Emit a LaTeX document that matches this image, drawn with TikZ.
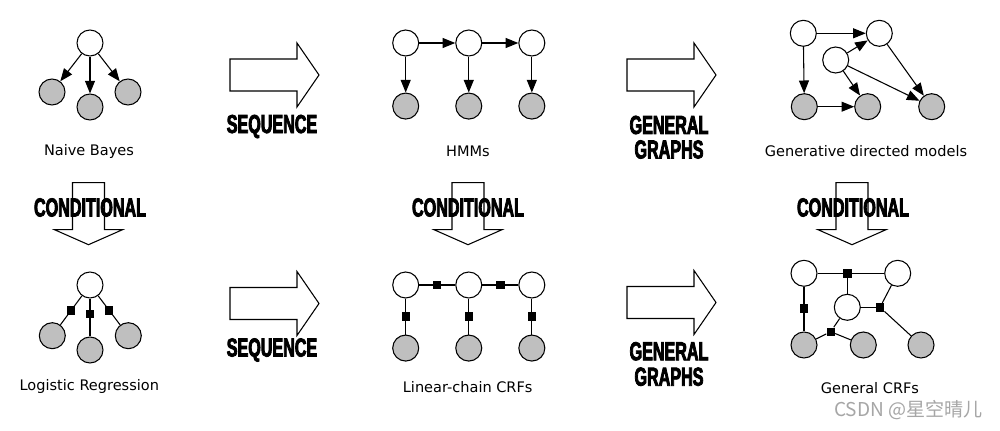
\documentclass[tikz,border=0pt]{standalone}
\usepackage{fontspec}
\setmainfont{DejaVu Sans}
\newfontfamily\bannerfont[FakeStretch=0.62,BoldFeatures={FakeBold=3}]{Liberation Sans}
\newfontfamily\cjkfont{Noto Sans CJK SC}
\usepackage{xcolor}
\usepackage{tikz}
\usetikzlibrary{arrows.meta,positioning}

\definecolor{obsgray}{HTML}{BFBFBF}
\definecolor{markgray}{HTML}{A6A6A6}

\tikzset{
  pics/rightfat/.style={code={\draw[fat] (0,-16) -- (67,-16) -- (67,-32) -- (89,0) -- (67,32) -- (67,16) -- (0,16) -- cycle;}},
  pics/downfat/.style={code={\draw[fat] (-16,0) -- (-16,47) -- (-34,47) -- (0,62) -- (34,47) -- (16,47) -- (16,0) -- cycle;}}
}

\begin{document}
\begin{tikzpicture}[
    x=0.75pt, y=-0.75pt,
    node distance=27pt and 27pt,
    hid/.style={circle, draw, fill=white, line width=0.8pt, minimum size=19.5pt, inner sep=0pt},
    obs/.style={hid, fill=obsgray},
    fac/.style={rectangle, fill=black, minimum size=6.3pt, inner sep=0pt},
    arrow/.style={-{Triangle[length=9.5pt,width=7.5pt]}, line width=0.8pt},
    edge/.style={line width=0.8pt},
    caption/.style={font=\fontsize{10.9}{13}\selectfont, inner sep=0pt},
    banner/.style={font=\bannerfont\bfseries\fontsize{19.5}{21}\selectfont, inner sep=0pt},
    fat/.style={draw, fill=white, line width=0.8pt}
]

\path[fill=white, use as bounding box] (0,0) rectangle (1000,431);

% big arrows
\pic at (230,75) {rightfat};
\pic at (627,75) {rightfat};
\pic at (230,303.5) {rightfat};
\pic at (627,302.5) {rightfat};
\pic at (88.5,182.7) {downfat};
\pic at (468,182.7) {downfat};
\pic at (852,182.7) {downfat};

\node[banner] (seq1) at (272,126.5) {SEQUENCE};
\node[banner] (seq2) at (272,350) {SEQUENCE};
\node[banner] (gen1) at (669,125) {GENERAL};
\node[banner] (gra1) at (669,149.5) {GRAPHS};
\node[banner] (gen2) at (669,351.3) {GENERAL};
\node[banner] (gra2) at (669,376.7) {GRAPHS};
\node[banner] (cond1) at (90,207.5) {CONDITIONAL};
\node[banner] (cond2) at (468,207.5) {CONDITIONAL};
\node[banner] (cond3) at (853,207.5) {CONDITIONAL};

% naive bayes
\node[hid] (nb) at (90,43) {};
\node[obs] (nb1) at (52,92) {};
\node[obs] (nb2) at (90,107) {};
\node[obs] (nb3) at (128,92) {};
\node[caption] (nbl) at (89,151) {Naive Bayes};
\draw[arrow] (nb) -- (nb1);
\draw[arrow] (nb) -- (nb2);
\draw[arrow] (nb) -- (nb3);

% hmm
\node[hid] (h1) at (405.7,43) {};
\node[hid, right=of h1] (h2) {};
\node[hid, right=of h2] (h3) {};
\node[obs, below=of h1] (o1) {};
\node[obs, below=of h2] (o2) {};
\node[obs, below=of h3] (o3) {};
\node[caption] (hmml) at (468,151) {HMMs};
\draw[arrow] (h1) -- (h2);
\draw[arrow] (h2) -- (h3);
\draw[arrow] (h1) -- (o1);
\draw[arrow] (h2) -- (o2);
\draw[arrow] (h3) -- (o3);

% generative directed models
\node[hid] (ga) at (803.3,33.3) {};
\node[hid] (gb) at (879.3,33.3) {};
\node[hid] (gc) at (835.7,60) {};
\node[obs] (gx1) at (804.3,106.7) {};
\node[obs] (gx2) at (867.7,106.7) {};
\node[obs] (gx3) at (931.7,106.7) {};
\node[caption] (gdml) at (866,150.7) {Generative directed models};
\draw[arrow] (ga) -- (gb);
\draw[arrow] (ga) -- (gx1);
\draw[arrow] (gc) -- (gb);
\draw[arrow] (gc) -- (gx2);
\draw[arrow] (gc) -- (gx3);
\draw[arrow] (gb) -- (gx3);
\draw[arrow] (gx1) -- (gx2);

% logistic regression
\node[hid] (lr) at (90,285) {};
\node[obs] (lr1) at (52.3,335.7) {};
\node[obs] (lr2) at (90,350) {};
\node[obs] (lr3) at (128.3,335.7) {};
\node[caption] (lrl) at (89.3,386.7) {Logistic Regression};
\draw[edge] (lr) -- node[fac, pos=0.5] (lf1) {} (lr1);
\draw[edge] (lr) -- node[fac, pos=0.4] (lf2) {} (lr2);
\draw[edge] (lr) -- node[fac, pos=0.5] (lf3) {} (lr3);

% linear-chain crf
\node[hid] (y1) at (405.7,285) {};
\node[hid, right=of y1] (y2) {};
\node[hid, right=of y2] (y3) {};
\node[obs, below=of y1] (x1) {};
\node[obs, below=of y2] (x2) {};
\node[obs, below=of y3] (x3) {};
\node[caption] (lcl) at (467.7,387.3) {Linear-chain CRFs};
\draw[edge] (y1) -- node[fac] (fy12) {} (y2);
\draw[edge] (y2) -- node[fac] (fy23) {} (y3);
\draw[edge] (y1) -- node[fac] (fx1) {} (x1);
\draw[edge] (y2) -- node[fac] (fx2) {} (x2);
\draw[edge] (y3) -- node[fac] (fx3) {} (x3);

% general crf
\node[hid] (ca) at (804,273.3) {};
\node[hid] (cb) at (897.7,273.3) {};
\node[hid] (cc) at (847.3,307.3) {};
\node[obs] (cx1) at (804,345) {};
\node[obs] (cx2) at (863.3,345) {};
\node[obs] (cx3) at (921,345) {};
\node[fac] (ft) at (847.3,273.3) {};
\node[fac] (fl) at (804,308.3) {};
\node[fac] (fr) at (880,307.3) {};
\node[fac] (fb) at (830.7,331.7) {};
\node[caption] (gcl) at (870,388.3) {General CRFs};
\draw[edge] (ca) -- (ft) -- (cb);
\draw[edge] (ft) -- (cc);
\draw[edge] (ca) -- (fl) -- (cx1);
\draw[edge] (cb) -- (fr) -- (cx3);
\draw[edge] (cc) -- (fr);
\draw[edge] (cc) -- (fb) -- (cx1);
\draw[edge] (fb) -- (cx2);

\node[font=\cjkfont\fontsize{14.3}{16}\selectfont, text=markgray, inner sep=0pt] (mark) at (908.5,410) {CSDN @星空晴儿};

\end{tikzpicture}
\end{document}
